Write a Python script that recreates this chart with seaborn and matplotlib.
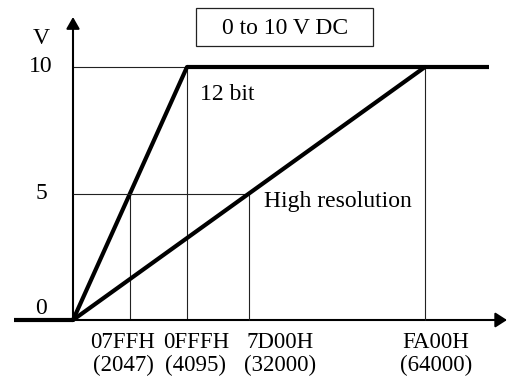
import matplotlib
matplotlib.use("Agg")
import matplotlib.pyplot as plt
import seaborn as sns
import pandas as pd
from matplotlib.transforms import offset_copy
from matplotlib.patches import Rectangle

# ---- data ----
bit12_codes = [0, 4095]
bit12_volts = [0, 10]
hires_codes = [0, 64000]
hires_volts = [0, 10]
bit12_ticks = [2047, 4095]
bit12_tick_labels = ["07FFH\n(2047)", "0FFFH\n(4095)"]
hires_ticks = [32000, 64000]
hires_tick_labels = ["7D00H\n(32000)", "FA00H\n(64000)"]
volt_ticks = [0, 5, 10]
volt_tick_labels = ["0", "5", "10"]
title_text = "0 to 10 V DC"
series_names = ["12 bit", "High resolution"]

sns.set_style("white")
plt.rcParams["font.family"] = ["Liberation Serif", "DejaVu Serif"]
plt.rcParams["text.color"] = "black"
FS = 17
FS_TICK = 16.5

W, H = 508, 381
fig = plt.figure(figsize=(W / 100, H / 100), dpi=100)
ax1 = fig.add_axes([0, 0, 1, 1])
ax2 = ax1.twiny()

# schematic layout (pixels)
x0_px, y0_px, y10_px = 73, 320, 67
px_per_v = (y0_px - y10_px) / 10
k1 = 4095 / 114.0     # codes per pixel for 12 bit
k2 = 64000 / 352.0    # codes per pixel for high resolution
ax1.set_xlim(-x0_px * k1, (W - x0_px) * k1)
ax2.set_xlim(-x0_px * k2, (W - x0_px) * k2)
ax1.set_ylim(-(H - y0_px) / px_per_v, 10 + y10_px / px_per_v)
for a in (ax1, ax2):
    a.axis("off")

thick = 3.0
thin = 0.8
gcol = "#222222"

# guide lines
ax1.hlines(10, 0, bit12_ticks[1], color=gcol, lw=thin)
ax2.hlines(5, 0, hires_ticks[0], color=gcol, lw=thin)
ax1.vlines(bit12_ticks[0], 0, 5, color=gcol, lw=thin)
ax1.vlines(bit12_ticks[1], 0, 10, color=gcol, lw=thin)
ax2.vlines(hires_ticks[0], 0, 5, color=gcol, lw=thin)
ax2.vlines(hires_ticks[1], 0, 10, color=gcol, lw=thin)

# axes arrows
ax1.annotate("", xy=(0, 10 + (y10_px - 17) / px_per_v), xytext=(0, 0),
             arrowprops=dict(arrowstyle="-|>,head_length=0.7,head_width=0.4",
                             lw=1.5, color="black", shrinkA=0, shrinkB=0,
                             mutation_scale=10))
ax1.annotate("", xy=(507 / W, 0), xycoords=("axes fraction", "data"),
             xytext=(0, 0), textcoords="data",
             arrowprops=dict(arrowstyle="-|>,head_length=0.7,head_width=0.45",
                             lw=1.5, color="black", shrinkA=0, shrinkB=0,
                             mutation_scale=10))

# series
sns.lineplot(x=bit12_codes, y=bit12_volts, ax=ax1, color="black", lw=thick)
sns.lineplot(x=hires_codes, y=hires_volts, ax=ax2, color="black", lw=thick)
# saturation at full scale and zero below range
x_sat = ax1.transAxes.inverted().transform(ax1.transData.transform((bit12_codes[-1], 10)))[0]
ax1.axhline(10, xmin=x_sat, xmax=489 / W, color="black", lw=thick, solid_capstyle="butt")
ax1.axhline(0, xmin=14 / W, xmax=x0_px / W, color="black", lw=thick, solid_capstyle="butt")

# x tick labels
lab_y = -(354 - y0_px) / px_per_v
for a, ticks, labels, offs in ((ax1, bit12_ticks, bit12_tick_labels, (-7, 9)),
                               (ax2, hires_ticks, hires_tick_labels, (31, 11))):
    for t, lab, dx in zip(ticks, labels, offs):
        a.text(t, lab_y, lab, transform=offset_copy(a.transData, fig=fig, x=dx, y=0, units="dots"),
               ha="center", va="center", multialignment="center", fontsize=FS_TICK,
               linespacing=1.12, color="black")

# y tick labels
ytr = offset_copy(ax1.transData, fig=fig, x=-32, y=0, units="dots")
for v, lab in zip(volt_ticks, volt_tick_labels):
    yy = v + (0.47 if v == 0 else 0)
    ax1.text(0, yy, lab, transform=ytr, ha="center", va="center", fontsize=FS, color="black")
ax1.text(0, 10 + (y10_px - 38) / px_per_v, "V", transform=ytr, ha="center", va="center",
         fontsize=FS, color="black")

# series labels
ax1.text(bit12_codes[-1], 10 - (95 - y10_px) / px_per_v, series_names[0],
         transform=offset_copy(ax1.transData, fig=fig, x=13, y=0, units="dots"),
         ha="left", va="center", fontsize=FS, color="black")
ax2.text(hires_ticks[0], (y0_px - 201) / px_per_v, series_names[1],
         transform=offset_copy(ax2.transData, fig=fig, x=15, y=0, units="dots"),
         ha="left", va="center", fontsize=FS, color="black")

# title box
fig.patches.append(Rectangle((196 / W, 1 - 46 / H), 177 / W, 38 / H, transform=fig.transFigure,
                             fill=False, edgecolor=gcol, lw=0.9))
fig.text(285 / W, 1 - 28 / H, title_text, ha="center", va="center", fontsize=FS, color="black")

fig.savefig("out.png", dpi=100)
